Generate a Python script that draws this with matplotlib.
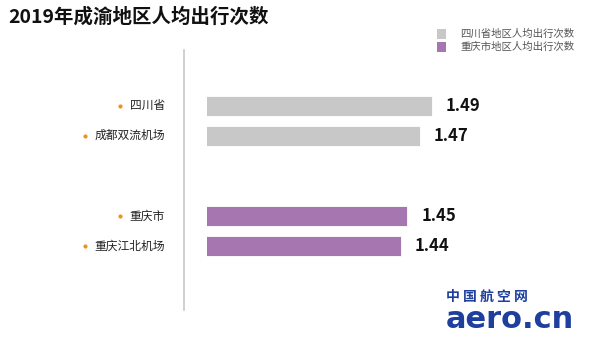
import matplotlib
matplotlib.use("Agg")
import matplotlib.pyplot as plt
from matplotlib.lines import Line2D
from matplotlib.patches import Rectangle
import matplotlib.transforms as mtransforms

plt.rcParams['font.family'] = ['Noto Sans CJK SC', 'DejaVu Sans']

# data
categories = ['四川省', '成都双流机场', '重庆市', '重庆江北机场']
values = [1.49, 1.47, 1.45, 1.44]
groups = ['四川省地区人均出行次数', '重庆市地区人均出行次数']
group_of = [0, 0, 1, 1]
title = '2019年成渝地区人均出行次数'

colors = ['#c8c8c8', '#a676b0']
positions = [0, 1, 3.7, 4.7]

W, H = 600, 340
fig = plt.figure(figsize=(6, 3.4), dpi=100)
fig.patch.set_facecolor('white')

def fx(px):
    return px / W

def fy(py):
    return 1 - py / H

ax = fig.add_axes([fx(207), fy(310), fx(560) - fx(207), fy(50) - fy(310)])
ax.barh(positions, values, height=0.67,
        color=[colors[g] for g in group_of], edgecolor='white', linewidth=0.6)
ax.set_xlim(1.127, 1.696)
ax.set_ylim(6.83, -1.87)
ax.axis('off')

for p, v in zip(positions, values):
    ax.annotate(f'{v:.2f}', (v, p), xytext=(10, 0), textcoords='offset points',
                ha='left', va='center', fontsize=12, fontweight='bold', color='#111111')

# category labels with orange dots
trans = mtransforms.blended_transform_factory(fig.transFigure, ax.transData)
labels = []
for p, c in zip(positions, categories):
    t = ax.text(fx(165), p, c, transform=trans, ha='right', va='center',
                fontsize=8.5, fontweight='medium', color='#222222')
    labels.append(t)

fig.canvas.draw()
r = fig.canvas.get_renderer()
for t, p in zip(labels, positions):
    bb = t.get_window_extent(renderer=r)
    ax.plot([fx(bb.x0 - 10)], [p], 'o', transform=trans, markersize=3,
            color='#f39019', markeredgewidth=0, clip_on=False)

# vertical divider
fig.add_artist(Line2D([fx(184), fx(184)], [fy(50), fy(310)],
                      color='#c8c8c8', linewidth=1.2))

# title
fig.text(fx(8), fy(17), title, ha='left', va='center', fontsize=14,
         fontweight='bold', color='#111111')

# legend
for i, (g, col) in enumerate(zip(groups, colors)):
    yc = 34 + i * 13
    fig.add_artist(Rectangle((fx(437), fy(yc + 4.5)), fx(9), 9 / H,
                             facecolor=col, edgecolor='none', transform=fig.transFigure))
    fig.text(fx(460), fy(yc), g, ha='left', va='center', fontsize=7.5, color='#555555')

# watermark logo
fig.text(fx(446), fy(297), '中 国 航 空 网', ha='left', va='center', fontsize=10,
         fontweight='bold', color='#1f3f9f')
fig.text(fx(446), fy(320), 'aero.cn', ha='left', va='center', fontsize=22,
         fontweight='bold', color='#1f3f9f', family='DejaVu Sans')

fig.savefig('out.png', dpi=100, facecolor='white')
